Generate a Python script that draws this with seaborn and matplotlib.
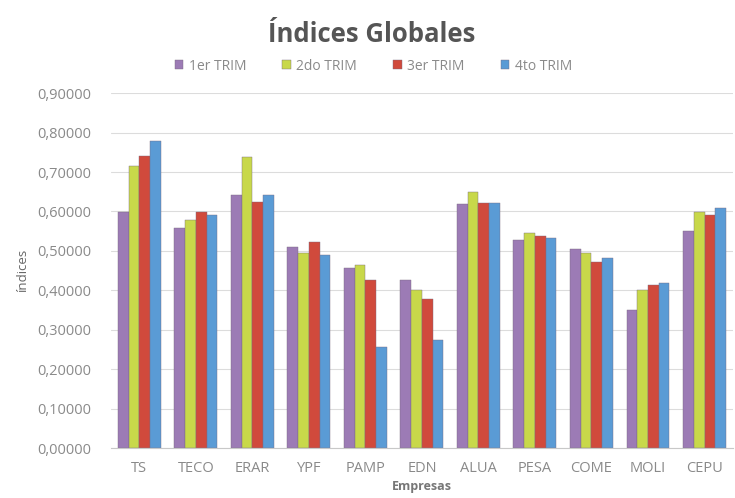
import pandas as pd
import matplotlib.pyplot as plt
import seaborn as sns
from matplotlib.ticker import FuncFormatter

# datos
empresas = ['TS', 'TECO', 'ERAR', 'YPF', 'PAMP', 'EDN', 'ALUA', 'PESA', 'COME', 'MOLI', 'CEPU']
trim1 = [0.599, 0.557, 0.641, 0.510, 0.456, 0.426, 0.619, 0.527, 0.506, 0.350, 0.551]
trim2 = [0.715, 0.578, 0.737, 0.495, 0.464, 0.402, 0.650, 0.546, 0.494, 0.401, 0.599]
trim3 = [0.740, 0.599, 0.624, 0.523, 0.426, 0.377, 0.621, 0.537, 0.472, 0.413, 0.591]
trim4 = [0.778, 0.591, 0.643, 0.489, 0.257, 0.274, 0.621, 0.532, 0.481, 0.419, 0.608]
trimestres = ['1er TRIM', '2do TRIM', '3er TRIM', '4to TRIM']
colores = ['#9c7bb5', '#c8d84a', '#d04a3c', '#5a9bd5']

df = pd.DataFrame({'Empresas': empresas * 4,
                   'indice': trim1 + trim2 + trim3 + trim4,
                   'trim': [t for t in trimestres for _ in empresas]})

sns.set_style('white')
plt.rcParams['font.family'] = ['Open Sans', 'DejaVu Sans']

fig = plt.figure(figsize=(7.35, 4.98), dpi=100)
ax = fig.add_axes([0.151, 0.100, 0.846, 0.713])
sns.barplot(data=df, x='Empresas', y='indice', hue='trim', hue_order=trimestres,
            palette=colores, width=0.76, saturation=1, edgecolor='#7a6a80',
            linewidth=0.3, ax=ax)

ax.set_ylim(0, 0.9)
ax.set_yticks([i / 10 for i in range(10)])
ax.yaxis.set_major_formatter(FuncFormatter(lambda v, p: f'{v:.5f}'.replace('.', ',')))
ax.grid(axis='y', color='#dcdcdc', linewidth=0.8)
ax.set_axisbelow(True)
for s in ['top', 'right', 'left']:
    ax.spines[s].set_visible(False)
ax.spines['bottom'].set_color('#c8c8c8')
ax.tick_params(axis='x', length=0, colors='#8a8a8a', labelsize=10.5, pad=9)
ax.tick_params(axis='y', length=0, colors='#8a8a8a', labelsize=10.5, pad=14)

ax.set_xlabel('Empresas', fontsize=9, fontweight='bold', color='#777777', labelpad=3)
ax.set_ylabel('índices', fontsize=9.5, color='#666666', labelpad=6)

fig.text(0.506, 0.93, 'Índices Globales', ha='center', va='center',
         fontsize=18.5, fontweight='bold', color='#555555')
ax.legend(loc='center', bbox_to_anchor=(0.508, 0.867), bbox_transform=fig.transFigure,
          ncol=4, frameon=False, fontsize=10, labelcolor='#8a8a8a',
          handlelength=0.6, handleheight=0.6, handletextpad=0.4, columnspacing=2.6)

fig.savefig('out.png', dpi=100)
